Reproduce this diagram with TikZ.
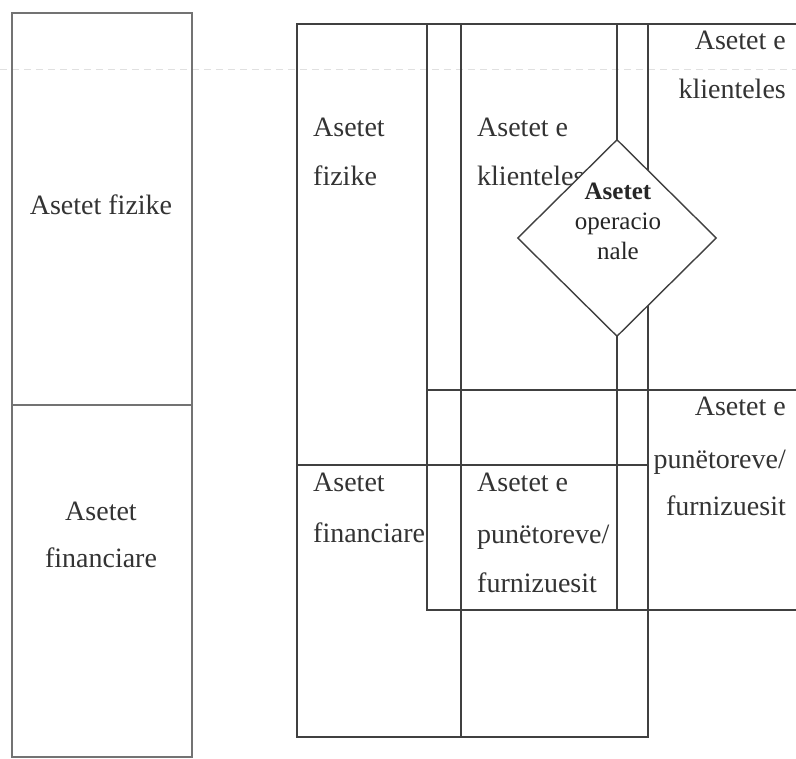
\documentclass[tikz,border=0pt]{standalone}
\usepackage{fontspec}
\setmainfont{Liberation Serif}
\usetikzlibrary{shapes.geometric}
\begin{document}
\begin{tikzpicture}[x=1pt,y=-1pt,
  ln/.style={draw=black!75, line width=1.4pt},
  lnl/.style={draw=black!55, line width=1.4pt},
  faint/.style={draw=black!12, line width=1pt, dash pattern=on 7pt off 5pt},
  lbl/.style={inner sep=0pt, text=black!80, font=\fontsize{28}{34}\selectfont},
  dlbl/.style={inner sep=0pt, text=black!85, font=\fontsize{25}{30}\selectfont}]
\useasboundingbox (0,0) rectangle (796,759);
\fill[white] (0,0) rectangle (796,759);
% scan artefact line
\draw[faint] (0,70) -- (796,70);
% left box
\draw[lnl] (12,13) rectangle (192,757);
\draw[lnl] (12,405) -- (192,405);
\node[lbl] (lfiz) at (101,205) {Asetet fizike};
\node[lbl, anchor=base] (lfin1) at (101,520) {Asetet};
\node[lbl, anchor=base] (lfin2) at (101,567) {financiare};
% right structure: first rectangle
\draw[ln] (297,24) rectangle (648,737);
\draw[ln] (297,465) -- (648,465);
\draw[ln] (461,24) -- (461,737);
% second rectangle (extends past the right edge)
\draw[ln] (796,610) -- (427,610) -- (427,24) -- (796,24);
\draw[ln] (427,390) -- (796,390);
\draw[ln] (617,24) -- (617,610);
% texts
\node[lbl, anchor=base west] (fiz1) at (313,137) {Asetet};
\node[lbl, anchor=base west] (fiz2) at (313,186) {fizike};
\node[lbl, anchor=base west] (fin1) at (313,492) {Asetet};
\node[lbl, anchor=base west] (fin2) at (313,542) {financiare};
\node[lbl, anchor=base west] (kl1) at (477,137) {Asetet e};
\node[lbl, anchor=base west] (kl2) at (477,186) {klienteles};
\node[lbl, anchor=base west] (pf1) at (477,492) {Asetet e};
\node[lbl, anchor=base west] (pf2) at (477,543) {punëtoreve/};
\node[lbl, anchor=base west] (pf3) at (477,592) {furnizuesit};
\node[lbl, anchor=base east] (rkl1) at (786,50) {Asetet e};
\node[lbl, anchor=base east] (rkl2) at (786,99) {klienteles};
\node[lbl, anchor=base east] (rpf1) at (786,416) {Asetet e};
\node[lbl, anchor=base east] (rpf2) at (786,468) {punëtoreve/};
\node[lbl, anchor=base east] (rpf3) at (786,515) {furnizuesit};
% diamond
\node[diamond, draw=black!75, line width=1.4pt, fill=white, inner sep=0pt,
      minimum width=199pt, minimum height=197pt] (op) at (617,238) {};
\node[dlbl, anchor=base, font=\fontsize{25}{30}\selectfont\bfseries] (op1) at (618,200) {Asetet};
\node[dlbl, anchor=base] (op2) at (618,230) {operacio};
\node[dlbl, anchor=base] (op3) at (618,260) {nale};
\end{tikzpicture}
\end{document}
